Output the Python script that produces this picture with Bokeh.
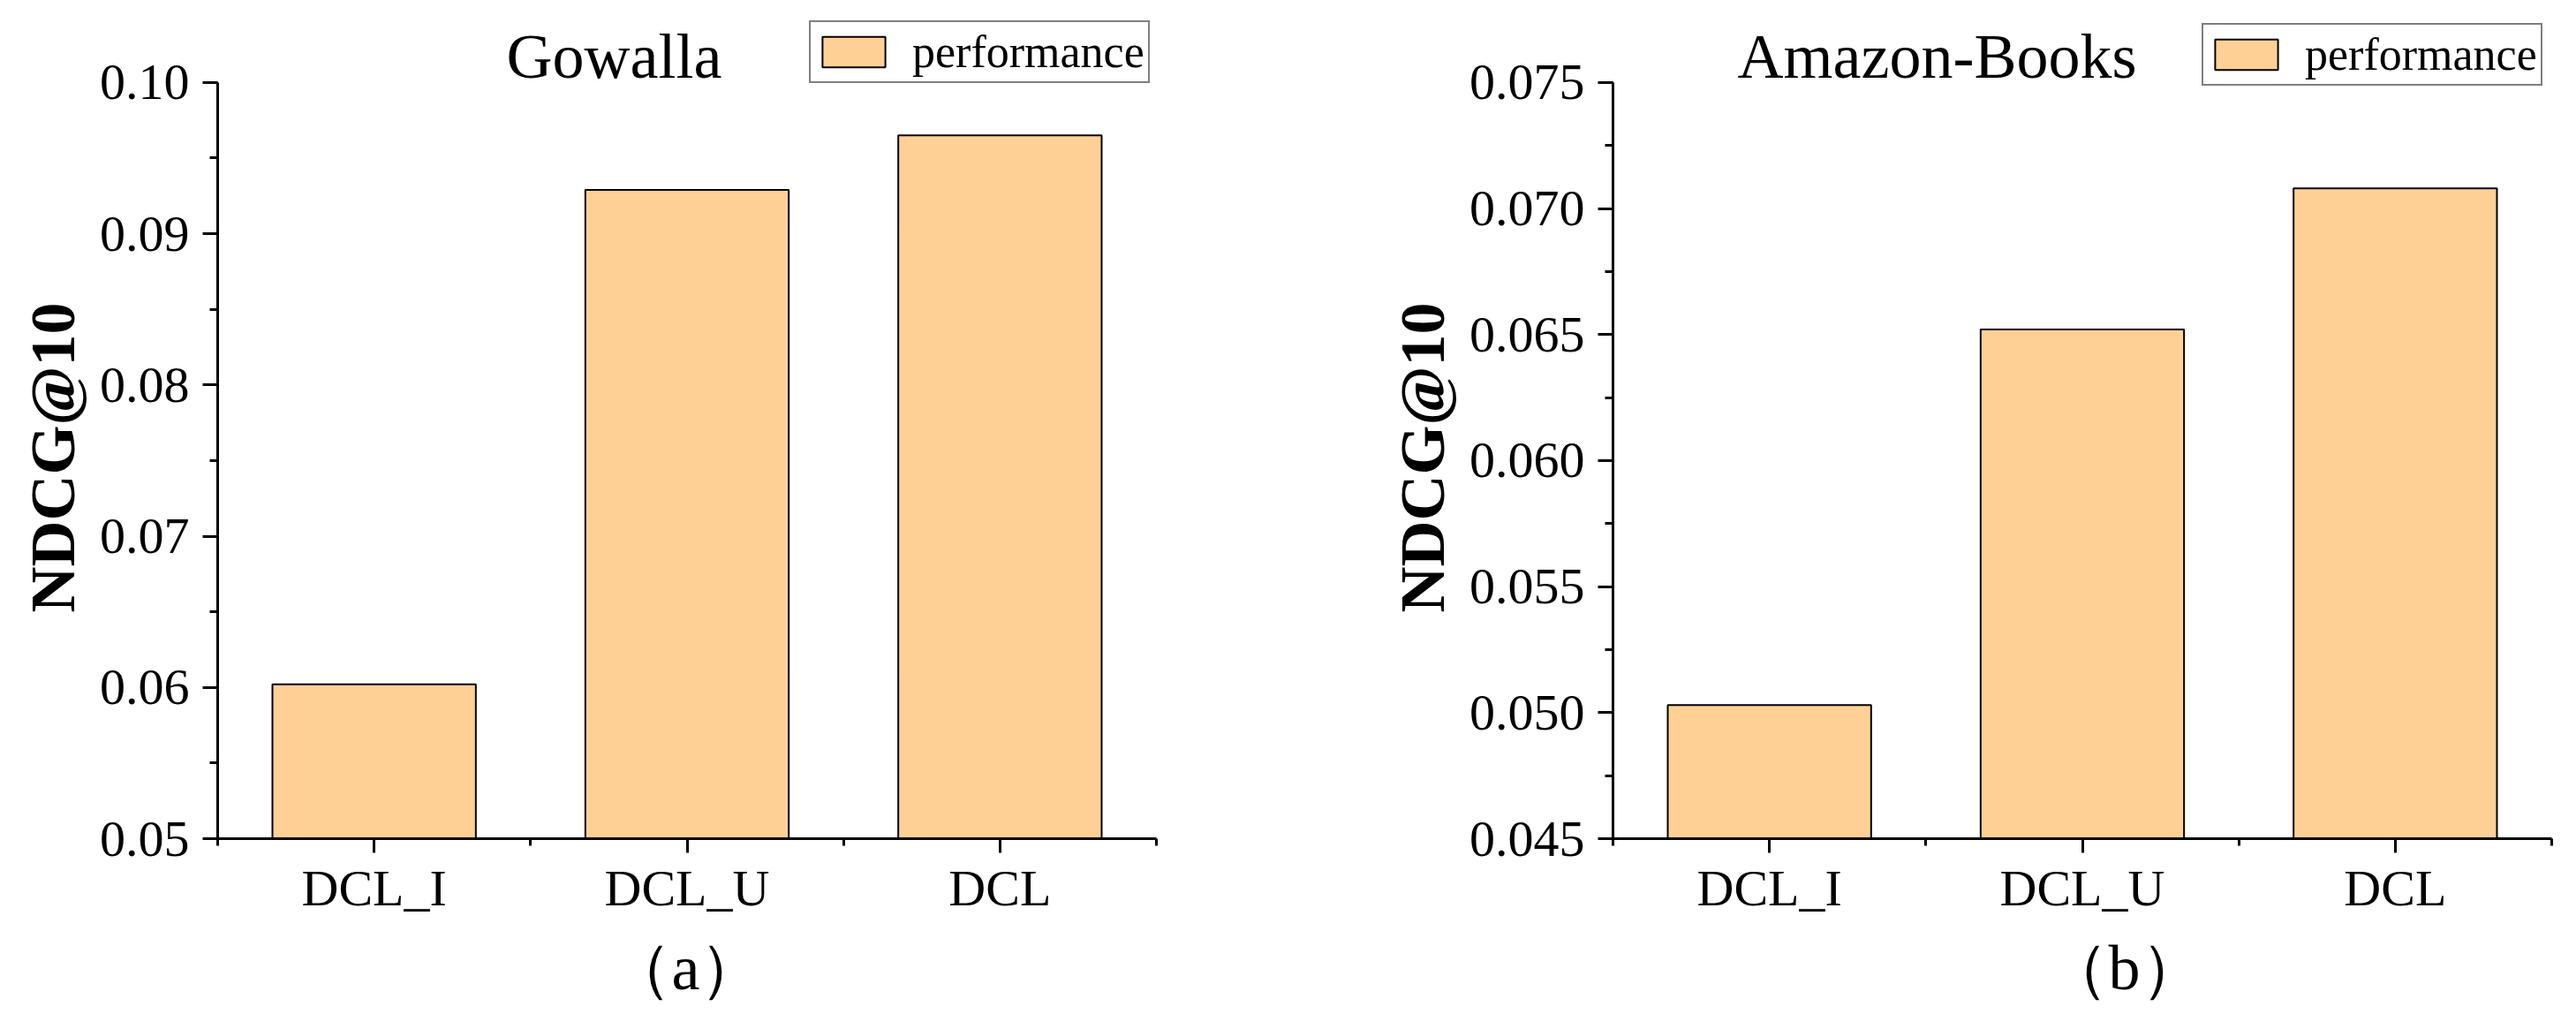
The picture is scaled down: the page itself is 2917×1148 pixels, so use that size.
import math
from bokeh.plotting import figure
from bokeh.layouts import row
from bokeh.models import (Range1d, FixedTicker, SingleIntervalTicker, PrintfTickFormatter,
                          Label, Legend, LegendItem, ColumnDataSource, Title)
from bokeh.embed import file_html
from bokeh.resources import INLINE

# ---------------- data ----------------
categories = ["DCL_I", "DCL_U", "DCL"]
gowalla_ndcg = [0.0602, 0.0929, 0.0965]
amazon_ndcg = [0.0503, 0.0652, 0.0708]
titles = ["Gowalla", "Amazon-Books"]
subcaptions = ["\uff08a\uff09", "\uff08b\uff09"]
y_label = "NDCG@10"
legend_label = "performance"

SERIF = "Liberation Serif"
BAR_COLOR = "#FFD096"

FIG_H = 1148
FRAME_TOP = 10        # frame extends above the axis so the title/legend sit inside it
AXIS_TOP_PX = 93      # pixel row of the top y tick
AXIS_BOTTOM_PX = 951  # pixel row of the x axis


def make_panel(values, title, sub, y_start, y_top, y_step, fmt, width, border_left,
               border_right, title_x, sub_offset, legend_loc):
    plot_h = AXIS_BOTTOM_PX - AXIS_TOP_PX
    frame_h = AXIS_BOTTOM_PX - FRAME_TOP
    y_end = y_start + (y_top - y_start) * frame_h / plot_h
    p = figure(width=width, height=FIG_H, output_backend="svg", toolbar_location=None,
               x_range=Range1d(-0.5, len(categories) - 0.5),
               y_range=Range1d(y_start, y_end),
               min_border_left=border_left, min_border_right=border_right,
               min_border_top=FRAME_TOP, min_border_bottom=FIG_H - AXIS_BOTTOM_PX)
    p.outline_line_color = None
    p.xgrid.visible = False
    p.ygrid.visible = False
    p.background_fill_color = "white"
    p.border_fill_color = "white"

    xs = list(range(len(categories)))
    src = ColumnDataSource(dict(x=xs, top=values, bottom=[y_start] * len(values)))
    r = p.vbar(x="x", top="top", bottom="bottom", width=0.65, source=src,
               fill_color=BAR_COLOR, line_color="black", line_width=2)

    # x axis
    xa = p.xaxis[0]
    xa.ticker = FixedTicker(ticks=xs, minor_ticks=[i - 0.5 for i in range(len(categories) + 1)])
    xa.major_label_overrides = {i: c for i, c in zip(xs, categories)}
    # y axis
    ya = p.yaxis[0]
    ya.ticker = SingleIntervalTicker(interval=y_step, num_minor_ticks=2)
    ya.formatter = PrintfTickFormatter(format=fmt)
    ya.bounds = (y_start, y_top)

    for ax in (xa, ya):
        ax.axis_line_width = 3
        ax.axis_line_color = "black"
        ax.major_tick_line_width = 3
        ax.minor_tick_line_width = 3
        ax.major_tick_line_color = "black"
        ax.minor_tick_line_color = "black"
        ax.major_tick_in = 0
        ax.minor_tick_in = 0
        ax.major_label_text_font = SERIF
        ax.major_label_text_font_size = "58px"
        ax.major_label_text_color = "black"
    xa.major_tick_out = 16
    xa.minor_tick_out = 8
    xa.major_label_standoff = 7
    ya.major_tick_out = 17
    ya.minor_tick_out = 9
    ya.major_label_standoff = 15

    # chart title inside the (extended) frame
    p.add_layout(Label(x=title_x, y=AXIS_BOTTOM_PX - 87 + 22, x_units="screen", y_units="screen",
                       text=title, text_font=SERIF, text_font_size="72px",
                       text_align="center", text_baseline="alphabetic", text_color="black"))

    # y axis title in the left panel
    p.add_layout(Title(text=y_label, align="left", offset=256, vertical_align="bottom",
                       standoff=20, text_font=SERIF, text_font_size="72px",
                       text_font_style="bold", text_color="black"), "left")
    # sub caption in the bottom panel
    p.add_layout(Title(text=sub, align="left", offset=sub_offset, vertical_align="bottom",
                       standoff=26, text_font=SERIF,
                       text_font_size="72px", text_font_style="normal",
                       text_color="black"), "below")

    legend = Legend(items=[LegendItem(label=legend_label, renderers=[r])],
                    location=legend_loc, orientation="vertical",
                    label_text_font=SERIF, label_text_font_size="52px",
                    label_text_color="black",
                    glyph_width=89, glyph_height=43, label_standoff=22,
                    padding=4, spacing=0, margin=0,
                    border_line_color="black", border_line_width=2,
                    background_fill_color="white", background_fill_alpha=1.0)
    p.add_layout(legend)
    return p


p1 = make_panel(gowalla_ndcg, titles[0], subcaptions[0], 0.05, 0.10, 0.01, "%.2f",
                width=1400, border_left=246, border_right=91,
                title_x=449, sub_offset=442, legend_loc=(670, 855))
p2 = make_panel(amazon_ndcg, titles[1], subcaptions[1], 0.045, 0.075, 0.005, "%.3f",
                width=1509, border_left=426, border_right=20,
                title_x=367, sub_offset=489, legend_loc=(667, 852))

layout = row(p1, p2)
open("out.html", "w").write(file_html(layout, INLINE))
